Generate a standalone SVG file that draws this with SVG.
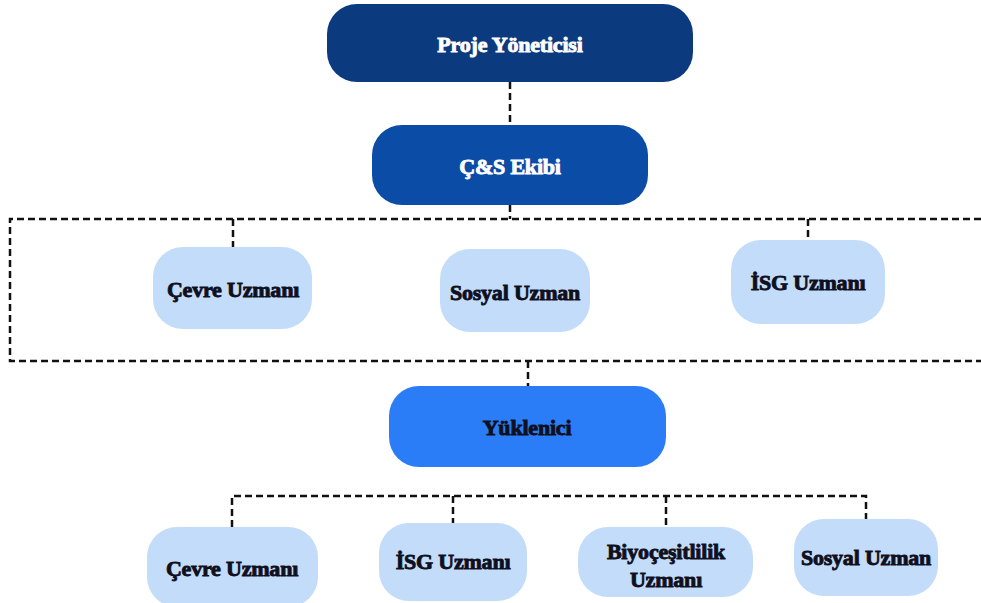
<svg xmlns="http://www.w3.org/2000/svg" width="981" height="603" viewBox="0 0 981 603">
<style>
.t{font-family:"Liberation Serif","DejaVu Serif",serif;font-weight:bold;font-size:22px;text-anchor:middle;dominant-baseline:central;stroke-width:0.9;letter-spacing:-0.2px}
.w{fill:#ffffff;stroke:#ffffff}
.d{fill:#0f0f1e;stroke:#0f0f1e}
.lb{fill:#c3dcf9}
.c{fill:none;stroke:#111;stroke-width:2.5;stroke-dasharray:7 4}
</style>
<rect width="981" height="603" fill="#ffffff"/>
<g id="connectors">
<path class="c" d="M510 82V125"/>
<path class="c" d="M981 219H10V361H981"/>
<path class="c" d="M510 205V219"/>
<path class="c" d="M233 219V247"/>
<path class="c" d="M808 219V240"/>
<path class="c" d="M528 361V386"/>
<path class="c" d="M232 527V496H866V519"/>
<path class="c" d="M453 496V523"/>
<path class="c" d="M666 496V527"/>
</g>
<g id="proje">
<rect x="327" y="4" width="366" height="78" rx="30" fill="#0b3a7e"/>
<text class="t w" x="510" y="44">Proje Yöneticisi</text>
</g>
<g id="cs">
<rect x="372" y="125" width="276" height="80" rx="30" fill="#0b4ca6"/>
<text class="t w" x="510" y="166">Ç&amp;S Ekibi</text>
</g>
<g id="cevre1">
<rect class="lb" x="153" y="247" width="159" height="82" rx="30"/>
<text class="t d" x="233" y="289">Çevre Uzmanı</text>
</g>
<g id="sosyal1">
<rect class="lb" x="440" y="249" width="150" height="83" rx="30"/>
<text class="t d" x="515" y="292">Sosyal Uzman</text>
</g>
<g id="isg1">
<rect class="lb" x="731" y="240" width="154" height="84" rx="30"/>
<text class="t d" x="808" y="282">İSG Uzmanı</text>
</g>
<g id="yuklenici">
<rect x="389" y="386" width="277" height="81" rx="30" fill="#2a7df6"/>
<text class="t d" x="527" y="427">Yüklenici</text>
</g>
<g id="cevre2">
<rect class="lb" x="147" y="527" width="171" height="80" rx="30"/>
<text class="t d" x="232" y="568">Çevre Uzmanı</text>
</g>
<g id="isg2">
<rect class="lb" x="379" y="523" width="148" height="78" rx="30"/>
<text class="t d" x="453" y="561">İSG Uzmanı</text>
</g>
<g id="biyo">
<rect class="lb" x="578" y="527" width="175" height="70" rx="30"/>
<text class="t d" x="666" y="551">Biyoçeşitlilik</text>
<text class="t d" x="666" y="579">Uzmanı</text>
</g>
<g id="sosyal2">
<rect class="lb" x="794" y="519" width="144" height="77" rx="30"/>
<text class="t d" x="866" y="557">Sosyal Uzman</text>
</g>
</svg>
